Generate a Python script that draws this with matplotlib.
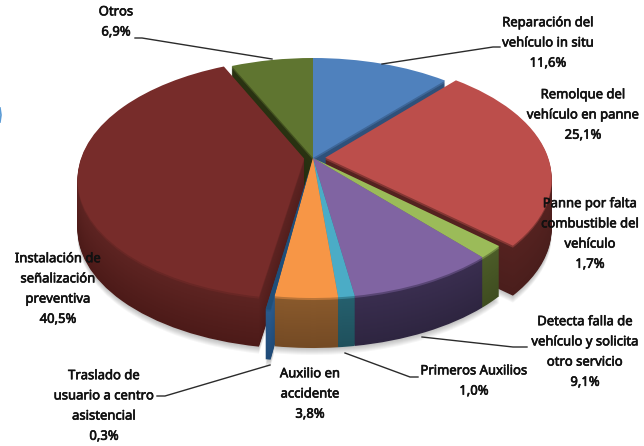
import numpy as np
import matplotlib
matplotlib.use("Agg")
import matplotlib.pyplot as plt
import matplotlib.patheffects as pe
from matplotlib.colors import to_rgb
from matplotlib.transforms import Transform

categories = [
    "Reparación del\nvehículo in situ",
    "Remolque del\nvehículo en panne",
    "Panne por falta\ncombustible del\nvehículo",
    "Detecta falla de\nvehículo y solicita\notro servicio",
    "Primeros Auxilios",
    "Auxilio en\naccidente",
    "Traslado de\nusuario a centro\nasistencial",
    "Instalación de\nseñalización\npreventiva",
    "Otros",
]
values = [11.6, 25.1, 1.7, 9.1, 1.0, 3.8, 0.3, 40.5, 6.9]

explode = [0, 0.055, 0, 0, 0, 0, 0.08, 0.04, 0]
top_colors = ["#4f81bd", "#bc4e4b", "#9bbb59", "#8064a2", "#4bacc6", "#f79646", "#1f4e79", "#772c2a", "#5f7530"]
wall_colors = ["#30527c", "#552220", "#4c5c28", "#3a2e50", "#25606e", "#8a5a2c", "#2a5a8c", "#5e2422", "#2a3312"]
wall_bottom = ["#284568", "#4a1e1c", "#3f4d20", "#2e2540", "#1f505c", "#744a24", "#1f4a78", "#4c1a18", "#222a0e"]
label_pos = [(548, 43), (583, 115), (590, 234), (585, 352), (474, 381), (310, 394), (104, 406), (58, 289), (116, 22)]
leaders = [
    [(500, 47), (493, 47), (382, 64)],
    [(527, 347), (513, 347), (422, 337)],
    [(418, 377), (410, 377), (345, 353)],
    [(157, 396), (165, 396), (270, 365)],
    [(135, 38), (142, 38), (272, 59)],
]

CX, CY = 313, 158
RX = 223
RY = 116.67
TILT = 0.1667
DEPTH = 50


class Perspective(Transform):
    # unit pie -> pixels, the front of the disc comes out larger than the back
    input_dims = 2
    output_dims = 2

    def __init__(self, drop=0):
        super().__init__()
        self.drop = drop

    def transform_non_affine(self, xy):
        xy = np.asarray(xy, dtype=float)
        w = 1 + TILT * xy[:, 1]
        return np.column_stack([CX + RX * xy[:, 0] / w, CY - RY * xy[:, 1] / w + self.drop])


def mix(a, b, f):
    return tuple((1 - f) * np.array(to_rgb(a)) + f * np.array(to_rgb(b)))


def draw_layer(ax, colors, drop, alpha=None):
    wedges, _ = ax.pie(
        values,
        explode=explode,
        colors=colors,
        startangle=90,
        counterclock=False,
        wedgeprops=dict(linewidth=0, alpha=alpha),
    )
    for w in wedges:
        w.set_transform(Perspective(drop) + ax.transData)


fig = plt.figure(figsize=(6.44, 4.46), dpi=100)
ax = fig.add_axes([0, 0, 1, 1])

# soft shadow under the disc
for i in range(7, 0, -1):
    draw_layer(ax, ["#000000"] * len(values), DEPTH + i, alpha=0.035)

# side walls, stacked from the bottom up
for d in range(DEPTH, 0, -1):
    layer = [mix(a, b, d / DEPTH) for a, b in zip(wall_colors, wall_bottom)]
    if d <= 2:
        # lighter bevel just under the top face
        layer = [mix(c, t, 0.45) for c, t in zip(layer, top_colors)]
    draw_layer(ax, layer, d)

draw_layer(ax, top_colors, 0)

ax.set_aspect("auto")
ax.set_xlim(0, 644)
ax.set_ylim(446, 0)
ax.axis("off")

# leader lines
for pts in leaders:
    xs = [p[0] for p in pts]
    ys = [p[1] for p in pts]
    ax.plot(xs, ys, color="#2b2b2b", lw=1, zorder=5)

# bit of a blue arc cut by the left edge
ax.plot([0, 1, 0], [108, 115, 122], color="#5b9bd5", lw=1.2, zorder=5)

for name, val, pos in zip(categories, values, label_pos):
    txt = name + "\n" + f"{val:.1f}".replace(".", ",") + "%"
    ax.text(
        pos[0], pos[1], txt,
        ha="center", va="center",
        family="Noto Sans", fontsize=9.4,
        color="#111111", linespacing=1.72, zorder=6,
        path_effects=[pe.withStroke(linewidth=0.45, foreground="#111111")],
    )

fig.savefig("out.png", dpi=100)
